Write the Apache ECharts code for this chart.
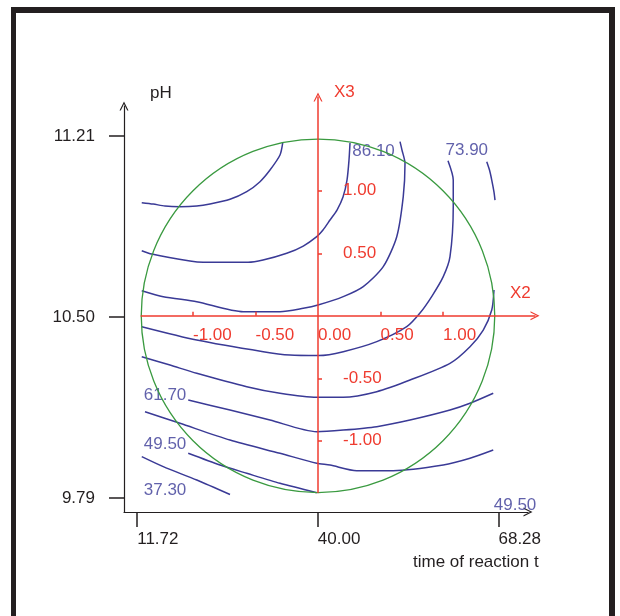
<!DOCTYPE html>
<html><head><meta charset="utf-8">
<script src="https://cdn.jsdelivr.net/npm/echarts@6/dist/echarts.min.js"></script>
<style>
html,body{margin:0;padding:0;background:#fff;}
#frame{position:absolute;left:11px;top:7px;width:593px;height:640px;border-style:solid;border-color:#231f20;border-width:6px 6px 0 5px;}
#chart{position:absolute;left:0;top:0;width:620px;height:616px;}
</style></head><body>
<div id="frame"></div>
<div id="chart"></div>
<script>
// ---- data (coded units X2, X3; real units for time / pH axes) ----
const timeTicks = [11.72, 40.00, 68.28];
const phTicks = [9.79, 10.50, 11.21];
const x2Ticks = [-1, -0.5, 0, 0.5, 1];
const x3Ticks = [-1, -0.5, 0.5, 1];

const contourLevels = [92.20, 86.10, 80.00, 73.90, 67.80, 61.70, 55.60, 49.50, 43.40, 67.80];
const contour92 = [[-1.410,0.905],[-1.318,0.894],[-1.224,0.878],[-1.104,0.873],[-0.970,0.878],[-0.864,0.894],[-0.704,0.932],[-0.570,0.993],[-0.464,1.073],[-0.384,1.166],[-0.304,1.286],[-0.282,1.385]];
const contour86 = [[-1.410,0.521],[-1.330,0.494],[-1.024,0.438],[-0.918,0.428],[-0.560,0.428],[-0.440,0.446],[-0.250,0.500],[-0.118,0.558],[-0.010,0.633],[0.040,0.686],[0.096,0.766],[0.152,0.846],[0.200,0.950],[0.232,1.086],[0.248,1.246],[0.256,1.382]];
const contour80 = [[-1.410,0.201],[-1.238,0.153],[-0.970,0.113],[-0.598,0.033],[-0.304,0.033],[-0.118,0.060],[0.000,0.086],[0.202,0.153],[0.362,0.233],[0.522,0.393],[0.630,0.633],[0.682,0.953],[0.696,1.220],[0.672,1.326],[0.656,1.393]];
const contour74 = [[-1.410,-0.087],[-0.970,-0.194],[-0.438,-0.287],[-0.224,-0.314],[0.006,-0.318],[0.202,-0.287],[0.470,-0.207],[0.710,-0.087],[0.816,0.022],[0.912,0.158],[1.002,0.313],[1.056,0.473],[1.082,0.873],[1.082,1.086],[1.040,1.240]];
const contour68 = [[-1.410,-0.327],[-1.184,-0.394],[-0.970,-0.460],[-0.570,-0.567],[-0.304,-0.620],[-0.010,-0.652],[0.202,-0.652],[0.470,-0.607],[0.736,-0.514],[1.056,-0.380],[1.216,-0.247],[1.322,-0.114],[1.390,0.046],[1.408,0.206]];
const contour62 = [[-1.038,-0.674],[-0.704,-0.754],[-0.384,-0.834],[-0.010,-0.927],[0.202,-0.914],[0.470,-0.887],[0.736,-0.834],[1.056,-0.754],[1.216,-0.700],[1.402,-0.620]];
const contour56 = [[-1.384,-0.767],[-1.104,-0.860],[-0.704,-0.994],[-0.304,-1.100],[-0.010,-1.180],[0.096,-1.194],[0.310,-1.239],[0.602,-1.239],[1.002,-1.194],[1.216,-1.140],[1.402,-1.074]];
const contour50 = [[-1.038,-1.100],[-0.784,-1.194],[-0.570,-1.260],[-0.304,-1.340],[-0.010,-1.415]];
const contour43 = [[-1.410,-1.127],[-1.238,-1.207],[-0.970,-1.314],[-0.704,-1.430]];
const contour68b = [[1.350,1.233],[1.372,1.166],[1.390,1.086],[1.408,0.990],[1.416,0.926]];
const contours = [contour92, contour86, contour80, contour74, contour68, contour62, contour56, contour50, contour43, contour68b];

const labelTexts = ['86.10', '73.90', '61.70', '49.50', '37.30', '49.50'];
const labelX2 = [0.270, 1.016, -1.398, -1.398, -1.398, 1.402];
const labelX3 = [1.313, 1.321, -0.640, -1.028, -1.399, -1.514];

const designRegion = [[0, 0, 1.414]]; // centre X2, centre X3, radius (alpha)

// ---- styles ----
const FONT = '"Liberation Sans", Arial, sans-serif';
const BLACK = '#231f20', RED = '#ef3b2f', BLUE = '#3a3a96', GREEN = '#3a9a40';
const chevron = 'path://M0,10 L5,0 L10,10 L8.6,10 L5,2.8 L1.4,10 Z';
const fmt2 = v => Number(v).toFixed(2);

const chart = echarts.init(document.getElementById('chart'), null, {renderer: 'canvas'});

const contourSeries = contours.map((pts, i) => ({
  type: 'line', name: String(contourLevels[i]),
  xAxisIndex: 1, yAxisIndex: 1,
  data: pts, symbol: 'none', showSymbol: false, clip: false, smooth: 0.25,
  lineStyle: {color: BLUE, width: 1.5}, z: 2, silent: true
}));

chart.setOption({
  animation: false,
  backgroundColor: 'transparent',
  textStyle: {fontFamily: FONT},
  title: [
    {text: 'pH', left: 150, top: 84, padding: 0, textStyle: {fontSize: 17, lineHeight: 18, fontWeight: 'normal', color: BLACK, fontFamily: FONT}},
    {text: 'X3', left: 334, top: 83, padding: 0, textStyle: {fontSize: 17, lineHeight: 18, fontWeight: 'normal', color: RED, fontFamily: FONT}},
    {text: 'X2', left: 510, top: 284, padding: 0, textStyle: {fontSize: 17, lineHeight: 18, fontWeight: 'normal', color: RED, fontFamily: FONT}},
    {text: 'time of reaction t', left: 413, top: 553, padding: 0, textStyle: {fontSize: 17, lineHeight: 18, fontWeight: 'normal', color: BLACK, fontFamily: FONT}}
  ],
  grid: [
    {left: 124, top: 106, width: 404, height: 406, containLabel: false, outerBoundsMode: 'none'},
    {left: 141.25, top: 97.05, width: 393.75, height: 395.5, containLabel: false, outerBoundsMode: 'none'}
  ],
  xAxis: [
    {type: 'value', gridIndex: 0, min: 9.65, max: 72.9,
      axisLine: {onZero: false, lineStyle: {color: BLACK, width: 1.2}, symbol: ['none', chevron], symbolSize: [9, 9]},
      axisTick: {show: true, customValues: timeTicks, length: 15, lineStyle: {color: BLACK, width: 1.5}},
      axisLabel: {customValues: timeTicks, formatter: fmt2, align: 'left', margin: 19, fontSize: 17, lineHeight: 17, color: BLACK, fontFamily: FONT},
      splitLine: {show: false}},
    {type: 'value', gridIndex: 1, min: -1.414, max: 1.736, position: 'bottom', offset: -176.75,
      axisLine: {onZero: false, lineStyle: {color: RED, width: 1.5}, symbol: ['none', chevron], symbolSize: [12, 9]},
      axisTick: {show: true, inside: true, customValues: [-1, -0.5, 0.5, 1], length: 4, lineStyle: {color: RED, width: 1.5}},
      axisLabel: {customValues: x2Ticks, formatter: fmt2, align: 'left', margin: 11, fontSize: 17, lineHeight: 17, color: RED, fontFamily: FONT},
      splitLine: {show: false}, z: 5}
  ],
  yAxis: [
    {type: 'value', gridIndex: 0, min: 9.736, max: 11.327,
      axisLine: {onZero: false, lineStyle: {color: BLACK, width: 1.2}, symbol: ['none', chevron], symbolSize: [9, 9]},
      axisTick: {show: true, customValues: phTicks, length: 15, lineStyle: {color: BLACK, width: 1.5}},
      axisLabel: {customValues: phTicks, formatter: fmt2, margin: 29, fontSize: 17, lineHeight: 17, color: BLACK, fontFamily: FONT},
      splitLine: {show: false}},
    {type: 'value', gridIndex: 1, min: -1.414, max: 1.75, position: 'left', offset: -176.75,
      axisLine: {onZero: false, lineStyle: {color: RED, width: 1.5}, symbol: ['none', chevron], symbolSize: [10, 9]},
      axisTick: {show: true, inside: true, customValues: x3Ticks, length: 4, lineStyle: {color: RED, width: 1.5}},
      axisLabel: {inside: true, customValues: x3Ticks, formatter: fmt2, margin: 25, fontSize: 17, lineHeight: 17, color: RED, fontFamily: FONT},
      splitLine: {show: false}, z: 5}
  ],
  series: contourSeries.concat([
    {type: 'custom', xAxisIndex: 1, yAxisIndex: 1, data: designRegion, clip: false, z: 4, silent: true,
      renderItem: function (params, api) {
        const c = api.coord([api.value(0), api.value(1)]);
        const e = api.coord([api.value(0) + api.value(2), api.value(1)]);
        return {type: 'circle', shape: {cx: c[0], cy: c[1], r: e[0] - c[0]},
          style: {fill: 'none', stroke: GREEN, lineWidth: 1.3}};
      }},
    {type: 'scatter', xAxisIndex: 1, yAxisIndex: 1, symbolSize: 1, clip: false, silent: true, z: 3,
      itemStyle: {color: 'rgba(0,0,0,0)'},
      data: labelTexts.map((t, i) => ({name: t, value: [labelX2[i], labelX3[i]]})),
      label: {show: true, position: 'right', distance: 0, formatter: '{b}', fontSize: 17, lineHeight: 17, color: BLUE, fontFamily: FONT}}
  ])
});
</script>
</body></html>
